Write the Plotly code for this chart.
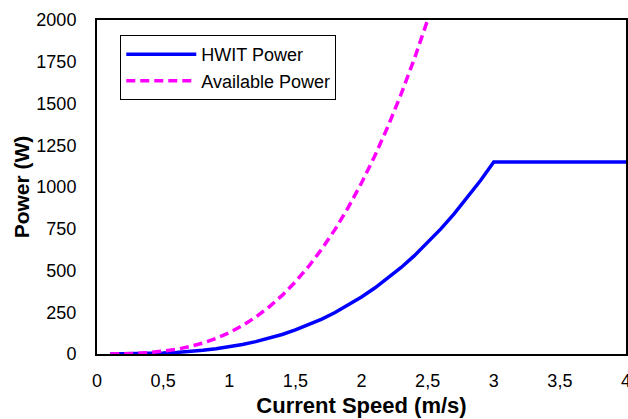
import plotly.graph_objects as go

speed_hwit = [0.1, 0.2, 0.3, 0.4, 0.5, 0.6, 0.7, 0.8, 0.9, 1.0,
              1.1, 1.2, 1.3, 1.4, 1.5, 1.6, 1.7, 1.8, 1.9, 2.0,
              2.1, 2.2, 2.3, 2.4, 2.5, 2.6, 2.7, 2.8, 2.9, 3.0,
              3.1, 3.2, 3.3, 3.4, 3.5, 3.6, 3.7, 3.8, 3.9, 4.0]
hwit_power = [0, 0.3, 1.2, 2.7, 5.3, 9.2, 14.6, 21.8, 31, 43,
              57, 74, 94, 117, 144, 175, 209, 248, 292, 341,
              395, 454, 518, 589, 666, 749, 839, 935, 1039, 1150,
              1150, 1150, 1150, 1150, 1150, 1150, 1150, 1150, 1150, 1150]

speed_avail = [0.1, 0.2, 0.3, 0.4, 0.5, 0.6, 0.7, 0.8, 0.9, 1.0,
               1.1, 1.2, 1.3, 1.4, 1.5, 1.6, 1.7, 1.8, 1.9, 2.0,
               2.1, 2.2, 2.3, 2.4, 2.5]
avail_power = [0.1, 1, 3.5, 8.2, 16, 27.6, 44, 65.5, 93, 128,
               170, 221, 281, 351, 432, 524, 629, 746, 878, 1024,
               1185, 1363, 1557, 1769, 2000]

x_ticks = [0, 0.5, 1, 1.5, 2, 2.5, 3, 3.5, 4]
y_ticks = [0, 250, 500, 750, 1000, 1250, 1500, 1750, 2000]

FONT = "Liberation Sans, Arial, sans-serif"

fig = go.Figure()
fig.add_trace(go.Scatter(x=speed_hwit, y=hwit_power, mode="lines", name="HWIT Power",
                         line=dict(color="#0000FF", width=3.5)))
fig.add_trace(go.Scatter(x=speed_avail, y=avail_power, mode="lines", name="Available Power",
                         line=dict(color="#FF00FF", width=3.5, dash="9px,5px")))

fig.update_layout(
    width=628, height=419,
    margin=dict(l=97, r=2, t=20, b=65, autoexpand=False),
    paper_bgcolor="white", plot_bgcolor="white",
    separators=",.",
    font=dict(family=FONT, size=18, color="black"),
    showlegend=True,
    legend=dict(x=0.044, y=0.955, xanchor="left", yanchor="top",
                bordercolor="black", borderwidth=1, bgcolor="white",
                font=dict(family=FONT, size=18, color="black"),
                tracegroupgap=0, itemwidth=70),
)
fig.update_xaxes(range=[0, 4], tickvals=x_ticks, showgrid=False, zeroline=False,
                 showline=True, linecolor="black", linewidth=2, mirror=True,
                 ticks="", ticklabelstandoff=9, ticklabeloverflow="allow",
                 automargin=False,
                 tickfont=dict(family=FONT, size=18, color="black"),
                 title=dict(text="<b>Current Speed (m/s)</b>", standoff=8,
                            font=dict(family=FONT, size=22, color="black")))
fig.update_yaxes(range=[0, 2000], tickvals=y_ticks, showgrid=False, zeroline=False,
                 showline=True, linecolor="black", linewidth=2, mirror=True,
                 ticks="", ticklabelstandoff=15, automargin=False,
                 tickfont=dict(family=FONT, size=18, color="black"),
                 title=dict(text="<b>Power (W)</b>", standoff=1,
                            font=dict(family=FONT, size=21, color="black")))

fig.write_html("out.html")
